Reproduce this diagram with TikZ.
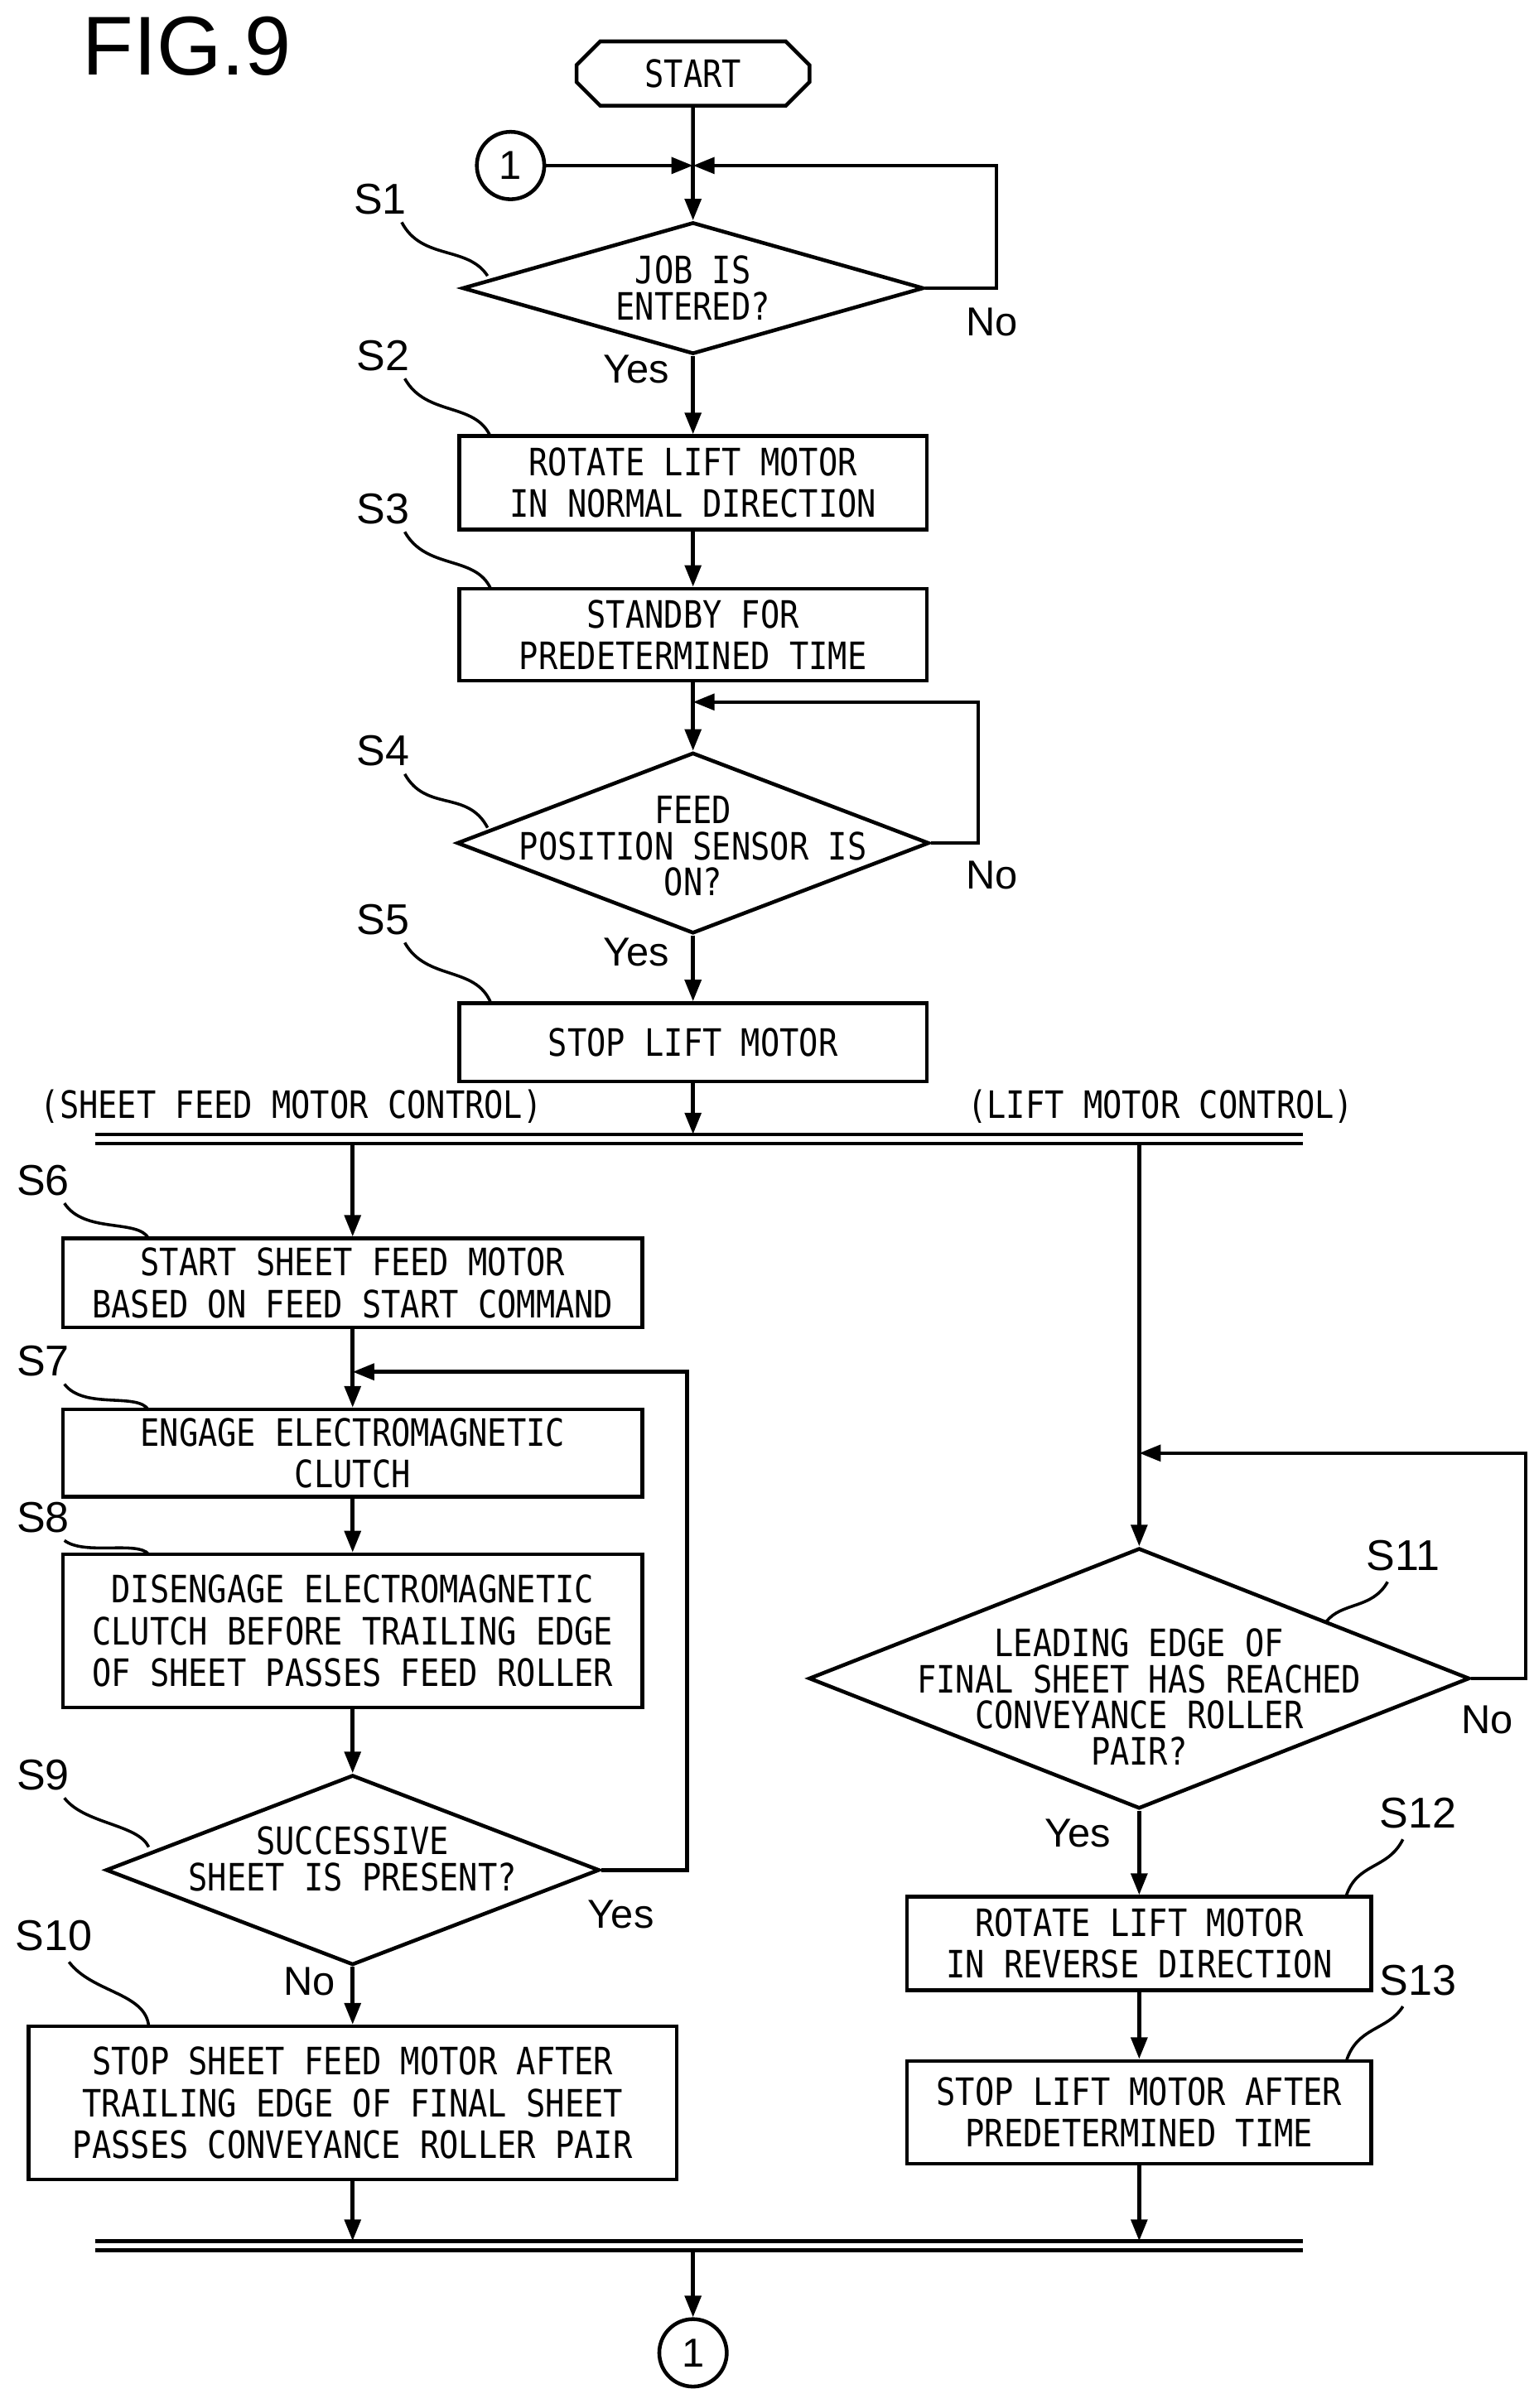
\documentclass[tikz,border=0pt]{standalone}
\usepackage{fontspec}
\setmainfont{Liberation Sans}
\setmonofont[FakeStretch=0.85]{DejaVu Sans Mono}
\usetikzlibrary{shapes.geometric,shapes.misc,arrows.meta}
\begin{document}
\begin{tikzpicture}[x=0.02cm,y=-0.02cm,
  every node/.style={inner sep=0pt},
  ln/.style={line width=1.4pt},
  ar/.style={ln,-{Triangle[length=8pt,width=6pt]}},
  box/.style={draw,ln,rectangle,align=center,font=\ttfamily\fontsize{14}{15.5}\selectfont},
  dia/.style={draw,ln,diamond,inner sep=0pt},
  dtx/.style={align=center,font=\ttfamily\fontsize{14}{13.5}\selectfont},
  lab/.style={font=\fontsize{16}{18}\selectfont},
  yn/.style={font=\fontsize{15}{17}\selectfont},
  hd/.style={font=\ttfamily\fontsize{14}{15}\selectfont},
  lead/.style={line width=1.1pt},
  conn/.style={draw,ln,circle,minimum size=0.88cm,font=\fontsize{15}{17}\selectfont}]
\useasboundingbox (0,0) rectangle (1000,1571);
\node[font=\fontsize{31}{34}\selectfont] (fig) at (122,30) {FIG.9};
\node[draw,ln,chamfered rectangle,chamfered rectangle xsep=0.3cm,minimum width=3.04cm,minimum height=0.84cm,inner xsep=0pt,font=\ttfamily\fontsize{14}{15}\selectfont] (start) at (452,48) {START};
\node[conn] (c1) at (333,108) {1};
\coordinate (j1) at (452,108);
% S1
\node[dia,minimum width=6.02cm,minimum height=1.72cm] (s1) at (452,188) {};
\node[dtx] at (452,188) {JOB IS\\ENTERED?};
% S2 S3
\node[box,minimum width=6.1cm,minimum height=1.22cm] (s2) at (452,315) {ROTATE LIFT MOTOR\\IN NORMAL DIRECTION};
\node[box,minimum width=6.1cm,minimum height=1.2cm] (s3) at (452,414) {STANDBY FOR\\PREDETERMINED TIME};
\coordinate (j4) at (452,458);
\node[dia,minimum width=6.16cm,minimum height=2.36cm] (s4) at (452,550) {};
\node[dtx] at (452,552) {FEED\\POSITION SENSOR IS\\ON?};
\node[box,minimum width=6.1cm,minimum height=1.02cm] (s5) at (452,680) {STOP LIFT MOTOR};
\coordinate (bar1) at (452,740);
\draw[ln] (62,740) -- (850,740) (62,746) -- (850,746);
\node[hd] (h1) at (190,722) {(SHEET FEED MOTOR CONTROL)};
\node[hd] (h2) at (757,722) {(LIFT MOTOR CONTROL)};
% left
\coordinate (lt) at (230,746);
\node[box,minimum width=7.56cm,minimum height=1.16cm] (s6) at (230,837) {START SHEET FEED MOTOR\\BASED ON FEED START COMMAND};
\coordinate (j7) at (230,895);
\node[box,minimum width=7.56cm,minimum height=1.14cm] (s7) at (230,948) {ENGAGE ELECTROMAGNETIC\\CLUTCH};
\node[box,minimum width=7.56cm,minimum height=2.0cm] (s8) at (230,1064) {DISENGAGE ELECTROMAGNETIC\\CLUTCH BEFORE TRAILING EDGE\\OF SHEET PASSES FEED ROLLER};
\node[dia,minimum width=6.44cm,minimum height=2.48cm] (s9) at (230,1220) {};
\node[dtx] at (230,1213) {SUCCESSIVE\\SHEET IS PRESENT?};
\node[box,minimum width=8.46cm,minimum height=2.0cm] (s10) at (230,1372) {STOP SHEET FEED MOTOR AFTER\\TRAILING EDGE OF FINAL SHEET\\PASSES CONVEYANCE ROLLER PAIR};
\coordinate (lb) at (230,1462);
% right
\coordinate (rt) at (743,746);
\coordinate (j11) at (743,948);
\node[dia,minimum width=8.62cm,minimum height=3.4cm] (s11) at (743,1095) {};
\node[dtx] at (743,1107) {LEADING EDGE OF\\FINAL SHEET HAS REACHED\\CONVEYANCE ROLLER\\PAIR?};
\node[box,minimum width=6.06cm,minimum height=1.22cm] (s12) at (743,1268) {ROTATE LIFT MOTOR\\IN REVERSE DIRECTION};
\node[box,minimum width=6.06cm,minimum height=1.34cm] (s13) at (743,1378) {STOP LIFT MOTOR AFTER\\PREDETERMINED TIME};
\coordinate (rb) at (743,1462);
\draw[ln] (62,1462) -- (850,1462) (62,1468) -- (850,1468);
\coordinate (bt) at (452,1468);
\node[conn] (c2) at (452,1535) {1};
% connectors
\draw[ln] (start) -- (j1);
\draw[ar] (c1) -- (j1);
\draw[ar] (j1) -- (s1.north);
\draw[ar] (s1.east) -- (650,188) -- (650,108) -- (j1);
\draw[ar] (s1.south) -- (s2);
\draw[ar] (s2) -- (s3);
\draw[ln] (s3) -- (j4);
\draw[ar] (j4) -- (s4.north);
\draw[ar] (s4.east) -- (638,550) -- (638,458) -- (j4);
\draw[ar] (s4.south) -- (s5);
\draw[ar] (s5) -- (bar1);
\draw[ar] (lt) -- (s6);
\draw[ln] (s6) -- (j7);
\draw[ar] (j7) -- (s7);
\draw[ar] (s7) -- (s8);
\draw[ar] (s8) -- (s9.north);
\draw[ar] (s9.east) -- (448,1220) -- (448,895) -- (j7);
\draw[ar] (s9.south) -- (s10);
\draw[ar] (s10) -- (lb);
\draw[ln] (rt) -- (j11);
\draw[ar] (j11) -- (s11.north);
\draw[ar] (s11.east) -- (995,1095) -- (995,948) -- (j11);
\draw[ar] (s11.south) -- (s12);
\draw[ar] (s12) -- (s13);
\draw[ar] (s13) -- (rb);
\draw[ar] (bt) -- (c2);
% yes/no
\node[yn] at (647,210) {No};
\node[yn] at (415,241) {Yes};
\node[yn] at (647,571) {No};
\node[yn] at (415,621) {Yes};
\node[yn] at (405,1249) {Yes};
\node[yn] at (202,1293) {No};
\node[yn] at (970,1122) {No};
\node[yn] at (703,1196) {Yes};
% step labels with leaders
\node[lab] (l1) at (248,130) {S1};
\draw[lead] (262,145) .. controls (275,170) and (305,160) .. (318,180);
\node[lab] (l2) at (250,232) {S2};
\draw[lead] (264,247) .. controls (278,272) and (310,262) .. (320,285);
\node[lab] (l3) at (250,332) {S3};
\draw[lead] (264,347) .. controls (278,372) and (310,362) .. (320,384);
\node[lab] (l4) at (250,490) {S4};
\draw[lead] (264,505) .. controls (278,530) and (305,515) .. (318,540);
\node[lab] (l5) at (250,600) {S5};
\draw[lead] (264,615) .. controls (278,640) and (310,630) .. (320,654);
\node[lab] (l6) at (28,770) {S6};
\draw[lead] (42,785) .. controls (55,805) and (90,795) .. (97,808);
\node[lab] (l7) at (28,888) {S7};
\draw[lead] (42,903) .. controls (55,920) and (90,908) .. (97,920);
\node[lab] (l8) at (28,990) {S8};
\draw[lead] (42,1005) .. controls (55,1015) and (90,1005) .. (97,1014);
\node[lab] (l9) at (28,1158) {S9};
\draw[lead] (42,1173) .. controls (55,1190) and (90,1190) .. (97,1205);
\node[lab] (l10) at (35,1263) {S10};
\draw[lead] (45,1280) .. controls (60,1300) and (95,1300) .. (97,1322);
\node[lab] (l11) at (915,1015) {S11};
\draw[lead] (905,1032) .. controls (895,1050) and (875,1045) .. (865,1058);
\node[lab] (l12) at (925,1183) {S12};
\draw[lead] (915,1200) .. controls (905,1220) and (885,1215) .. (878,1237);
\node[lab] (l13) at (925,1292) {S13};
\draw[lead] (915,1309) .. controls (905,1325) and (885,1322) .. (878,1345);
\end{tikzpicture}
\end{document}
